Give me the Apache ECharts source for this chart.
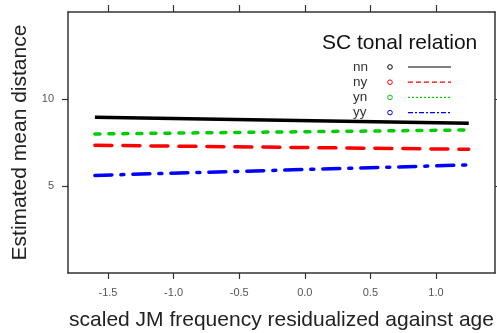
<!DOCTYPE html>
<html>
<head>
<meta charset="utf-8">
<script src="https://cdn.jsdelivr.net/npm/echarts@6/dist/echarts.min.js"></script>
<style>
html,body{margin:0;padding:0;background:#fff;}
#c{width:497px;height:333px;}
</style>
</head>
<body>
<div id="c"></div>
<script>
// ---- data ----
var xValues = [-1.6, 1.25];
var nnValues = [8.95, 8.60];
var nyValues = [7.34, 7.11];
var ynValues = [7.99, 8.22];
var yyValues = [5.61, 6.21];
var seriesNames = ['nn', 'ny', 'yn', 'yy'];
var xTicks = [-1.5, -1.0, -0.5, 0.0, 0.5, 1.0];
var yTicks = [5, 10];
var legendTitle = 'SC tonal relation';
var xTitle = 'scaled JM frequency residualized against age';
var yTitle = 'Estimated mean distance';

var colors = ['#000000', '#ff0000', '#00cc00', '#0000ff'];
var dashes = ['solid', [17, 11], [5, 9], [17, 9, 3, 9]];
var legendDashes = ['solid', [5, 3], [2, 2], [5, 2, 2, 2]];
var allValues = [nnValues, nyValues, ynValues, yyValues];

var chart = echarts.init(document.getElementById('c'), null, {renderer: 'canvas'});

var font = 'Liberation Sans, Arial, sans-serif';
var axisColor = '#333';

function pairs(vals) {
  return xValues.map(function (x, i) { return [x, vals[i]]; });
}

var series = seriesNames.map(function (name, i) {
  return {
    name: name,
    type: 'line',
    data: pairs(allValues[i]),
    showSymbol: false,
    symbol: 'none',
    animation: false,
    lineStyle: {color: colors[i], width: 3.5, type: dashes[i], cap: i === 0 ? 'butt' : 'round'},
    z: 10 - i
  };
});

var graphics = [];
graphics.push({
  type: 'text', left: 322, top: 33,
  style: {text: legendTitle, font: '21px ' + font, fill: '#111'}
});
seriesNames.forEach(function (name, i) {
  var cy = 67 + i * 15.2;
  graphics.push({
    type: 'text', x: 353, y: cy,
    style: {text: name, font: '13.5px ' + font, fill: '#333', textVerticalAlign: 'middle'}
  });
  graphics.push({
    type: 'circle', shape: {cx: 390, cy: cy, r: 2.3},
    style: {stroke: colors[i], fill: 'none', lineWidth: 1}
  });
  graphics.push({
    type: 'line', shape: {x1: 408, y1: cy, x2: 451, y2: cy},
    style: {stroke: colors[i], lineWidth: 1.2, lineDash: legendDashes[i] === 'solid' ? null : legendDashes[i]}
  });
});

chart.setOption({
  backgroundColor: '#ffffff',
  animation: false,
  grid: {left: 68, right: 2, top: 12, bottom: 60, containLabel: false, outerBoundsMode: 'none'},
  xAxis: [
    {
      type: 'value', min: -1.805, max: 1.45, position: 'bottom',
      name: xTitle, nameLocation: 'middle', nameGap: 37,
      nameTextStyle: {color: '#222', fontSize: 21, fontFamily: font},
      axisLine: {show: true, onZero: false, lineStyle: {color: axisColor, width: 1.5}},
      axisTick: {show: true, length: 6, lineStyle: {color: axisColor, width: 1.2}, customValues: xTicks},
      axisLabel: {show: true, margin: 14, customValues: xTicks, formatter: function (v) { return v.toFixed(1); }, color: '#555', fontSize: 11, fontFamily: font},
      splitLine: {show: false}
    },
    {
      type: 'value', min: -1.805, max: 1.45, position: 'top',
      axisLine: {show: true, onZero: false, lineStyle: {color: axisColor, width: 1.5}},
      axisTick: {show: true, length: 7, lineStyle: {color: axisColor, width: 1.2}, customValues: xTicks},
      axisLabel: {show: false},
      splitLine: {show: false}
    }
  ],
  yAxis: [
    {
      type: 'value', min: 0, max: 15, position: 'left',
      name: yTitle, nameLocation: 'middle', nameGap: 32,
      nameTextStyle: {color: '#222', fontSize: 21, fontFamily: font},
      axisLine: {show: true, onZero: false, lineStyle: {color: axisColor, width: 1.5}},
      axisTick: {show: true, length: 6, lineStyle: {color: axisColor, width: 1.2}, customValues: yTicks},
      axisLabel: {show: true, margin: 14, customValues: yTicks, color: '#555', fontSize: 11, fontFamily: font},
      splitLine: {show: false}
    },
    {
      type: 'value', min: 0, max: 15, position: 'right',
      axisLine: {show: true, onZero: false, lineStyle: {color: axisColor, width: 1.5}},
      axisTick: {show: true, length: 6, lineStyle: {color: axisColor, width: 1.2}, customValues: yTicks},
      axisLabel: {show: false},
      splitLine: {show: false}
    }
  ],
  series: series,
  graphic: graphics
});
</script>
</body>
</html>
